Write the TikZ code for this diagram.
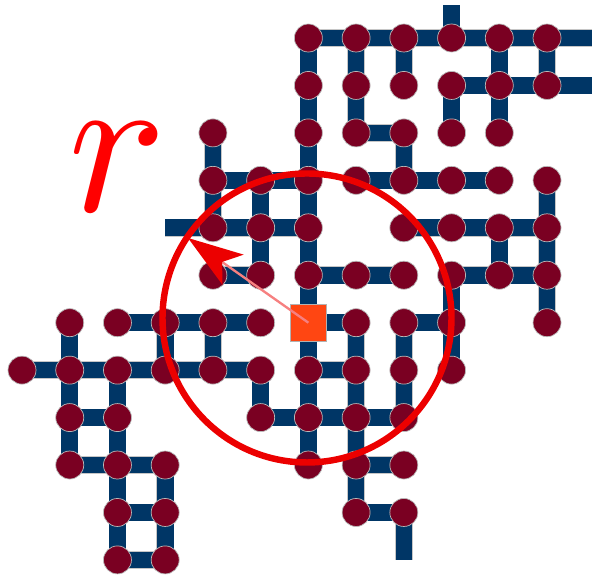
\documentclass[tikz,border=0pt]{standalone}
\usetikzlibrary{arrows.meta}
\definecolor{bondnavy}{RGB}{0,54,102}
\definecolor{sitered}{RGB}{122,0,34}
\definecolor{seedorange}{RGB}{255,70,18}
\definecolor{rangered}{RGB}{236,0,0}
\definecolor{rayred}{RGB}{246,128,128}
\pgfdeclarelayer{bonds}
\pgfsetlayers{bonds,main}
\tikzset{
  site/.style={
    circle,
    draw=gray!55,
    line width=0.6pt,
    fill=sitered,
    minimum size=8.4mm,
    inner sep=0pt
  },
  seed/.style={
    rectangle,
    draw=gray!60,
    line width=0.6pt,
    fill=seedorange,
    minimum size=11mm,
    inner sep=0pt
  },
  bond/.style={draw=gray!45,line width=0.35pt,double=bondnavy,double distance=5mm},
  reach/.style={draw=rangered,line width=5.5pt},
  ray/.style={draw=rayred,line width=2pt,-{Stealth[length=16.5mm,width=11mm,inset=4mm,color=rangered]}},
  rlabel/.style={text=red,inner sep=0pt,scale=17.5}
}
\begin{document}
\begin{tikzpicture}[x=1.432cm,y=-1.4235cm]
  \useasboundingbox (-0.461,-0.801) rectangle (11.942,11.338);
  \foreach \r/\cols in {0/{6,7,8,9,10,11},1/{6,7,8,9,10,11},2/{4,6,7,8,9,10},
      3/{4,5,6,7,8,9,10,11},4/{4,5,6,8,9,10,11},5/{4,5,6,7,8,9,10,11},
      6/{1,2,3,4,5,7,8,9,11},7/{0,1,2,3,4,5,6,7,8,9},8/{1,2,5,6,7,8},
      9/{1,2,3,6,7,8},10/{2,3,7,8},11/{2,3}}
    \foreach \c in \cols
      \node[site] (s-\r-\c) at (\c,\r) {};
  \node[seed] (s-6-6) at (6,6) {};
  \coordinate (open-n) at (9,-0.7);
  \coordinate (open-e0) at (11.96,0);
  \coordinate (open-e1) at (11.96,1);
  \coordinate (open-w) at (3,4);
  \coordinate (open-s) at (8,11);
  \begin{pgfonlayer}{bonds}
    \foreach \r/\cols in {0/{6,7,8,9,10},1/{9,10},2/{7},3/{4,5,7,8,9},4/{4,5,8,9,10},
        5/{4,6,7,9,10},6/{2,3,4,6,8},7/{0,1,2,3,4,6},8/{1,5,6,7},9/{1,2,7},10/{2,7},11/{2}}
      \foreach \c in \cols {
        \pgfmathtruncatemacro{\nxt}{\c+1}
        \draw[bond] (s-\r-\c.center) -- (s-\r-\nxt.center);
      }
    \foreach \r/\cols in {0/{6,7,8,10,11},1/{6,7,9,10},
        2/{4,6,8},3/{4,5,6,11},4/{5,6,10,11},5/{6,9,11},6/{1,3,4,6,7,8,9},
        7/{1,2,5,6,7,8},8/{1,2,6,7},9/{2,3,7},10/{2,3}}
      \foreach \c in \cols {
        \pgfmathtruncatemacro{\dwn}{\r+1}
        \draw[bond] (s-\r-\c.center) -- (s-\dwn-\c.center);
      }
    \draw[bond] (s-0-9.center) -- (open-n);
    \draw[bond] (s-0-11.center) -- (open-e0);
    \draw[bond] (s-1-11.center) -- (open-e1);
    \draw[bond] (s-4-4.center) -- (open-w);
    \draw[bond] (s-10-8.center) -- (open-s);
  \end{pgfonlayer}
  \coordinate (ctr) at (5.971,5.901);
  \coordinate (tip) at (3.478,4.215);
  \draw[ray] (s-6-6.center) -- (tip);
  \draw[reach] (ctr) circle[radius=4.335cm];
  \node[rlabel] (rlab) at (2.011,2.719) {$r$};
\end{tikzpicture}
\end{document}
